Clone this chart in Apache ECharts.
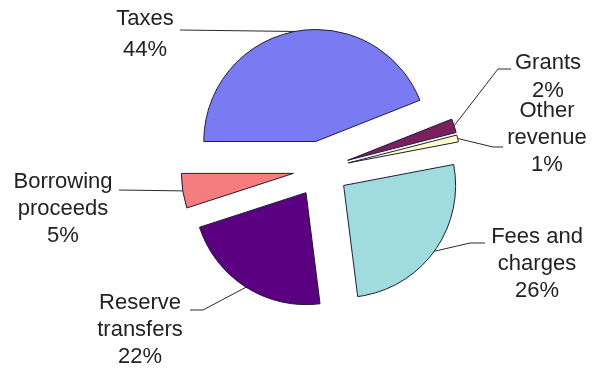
<!DOCTYPE html>
<html><head><meta charset="utf-8">
<script src="https://cdn.jsdelivr.net/npm/echarts@6/dist/echarts.min.js"></script>
<style>html,body{margin:0;padding:0;background:#fff}#c{width:593px;height:368px}</style>
</head><body><div id="c"></div>
<script>
// ---- data ----
const categories = ['Taxes', 'Grants', 'Other\nrevenue', 'Fees and\ncharges', 'Reserve\ntransfers', 'Borrowing\nproceeds'];
const shares = [44, 2, 1, 26, 22, 5];

// ---- styles / layout ----
const colors = ['#7a7af2', '#7b1f5e', '#ffffc8', '#a0dcde', '#5a0080', '#f57d7d'];
const labelCenters = [[145, 34], [548, 77], [547, 138], [537, 264], [140, 330], [63, 209]];
const labelLineHeights = [31, 28, 27, 27, 27, 27];
// knee + end of each leader line (start is on the slice arc)
const leaderTail = [
  [[180, 30], [180, 30]],
  [[498, 69], [511, 69]],
  [[493, 147], [503, 147]],
  [[470, 243], [485, 243]],
  [[203, 310], [190, 310]],
  [[119, 190], [119, 190]]
];
const CX = 321, CY = 169, R = 112, OFFSET = 28, START = 180;

const total = shares.reduce((a, b) => a + b, 0);
function midAngle(i) {
  let cum = 0;
  for (let k = 0; k < i; k++) cum += shares[k];
  return (START - 360 * (cum + shares[i] / 2) / total) * Math.PI / 180;
}

// one pie series per exploded slice: same data, only its own slice visible
const series = categories.map((_, s) => {
  const a = midAngle(s);
  return {
    type: 'pie',
    center: [CX + OFFSET * Math.cos(a), CY - OFFSET * Math.sin(a)],
    radius: R,
    startAngle: START,
    clockwise: true,
    avoidLabelOverlap: false,
    silent: true,
    emphasis: {disabled: true},
    label: {
      show: true,
      position: 'outside',
      formatter: p => p.name + '\n' + shares[p.dataIndex] + '%',
      fontFamily: '"Liberation Sans", Arial, sans-serif',
      fontSize: 22,
      color: '#222'
    },
    labelLine: {show: true, lineStyle: {color: '#2a2a2a', width: 1}},
    labelLayout: function (params) {
      const i = params.dataIndex;
      if (i !== s) return {};
      const sx = CX + (R + OFFSET) * Math.cos(a);
      const sy = CY - (R + OFFSET) * Math.sin(a);
      return {
        x: labelCenters[i][0],
        y: labelCenters[i][1],
        align: 'center',
        verticalAlign: 'middle',
        labelLinePoints: [[sx, sy], leaderTail[i][0], leaderTail[i][1]]
      };
    },
    data: categories.map((name, i) => ({
      name: name,
      value: shares[i],
      itemStyle: i === s
        ? {color: colors[i], borderColor: '#1e1e3c', borderWidth: 1}
        : {color: 'rgba(0,0,0,0)', borderWidth: 0},
      label: i === s ? {show: true, lineHeight: labelLineHeights[i], align: 'center'} : {show: false},
      labelLine: {show: i === s}
    }))
  };
});

const chart = echarts.init(document.getElementById('c'), null, {renderer: 'canvas'});
chart.setOption({animation: false, backgroundColor: '#fff', series: series});
</script>
</body></html>
